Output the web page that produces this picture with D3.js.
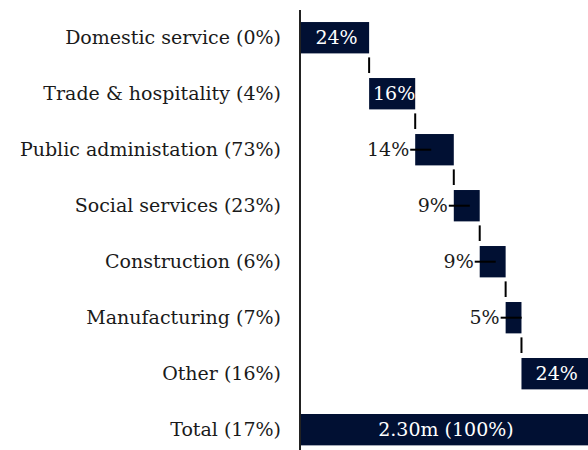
<!DOCTYPE html>
<html>
<meta charset="utf-8">
<style>
body { margin: 0; background: #fff; }
text { font-family: "DejaVu Serif", serif; }
</style>
<body>
<script src="https://d3js.org/d3.v7.min.js"></script>
<script>
// categories and shares (%)
var categories = ["Domestic service (0%)", "Trade & hospitality (4%)", "Public administation (73%)",
                  "Social services (23%)", "Construction (6%)", "Manufacturing (7%)", "Other (16%)"];
var shares = [24.0, 16.0, 13.4, 9.0, 9.0, 5.5, 23.1];
var shareLabels = ["24%", "16%", "14%", "9%", "9%", "5%", "24%"];
var totalName = "Total (17%)";
var totalLabel = "2.30m (100%)";
var insideLabel = [true, true, false, false, false, false, true];

var width = 588, height = 450, axisX = 300;

var svg = d3.select("body").append("svg")
    .attr("width", width)
    .attr("height", height);

// build waterfall rows
var rows = [], run = 0;
shares.forEach(function(v, i) {
  rows.push({name: categories[i], start: run, end: run + v, label: shareLabels[i], inside: insideLabel[i]});
  run += v;
});
var total = {name: totalName, start: 0, end: 100, label: totalLabel, inside: true};
var allRows = rows.concat([total]);

var x = d3.scaleLinear().domain([0, 100]).range([axisX, axisX + 288]);
var y = d3.scaleBand()
    .domain(allRows.map(function(d) { return d.name; }))
    .range([-2.6, 470])
    .padding(0.44);

var navy = "#011033";

// category labels
svg.selectAll(".cat")
    .data(allRows)
  .enter().append("text")
    .attr("class", "cat")
    .attr("x", axisX - 19)
    .attr("y", function(d) { return y(d.name) + y.bandwidth() / 2; })
    .attr("dy", ".35em")
    .style("text-anchor", "end")
    .style("font-size", "19px")
    .style("fill", "#1a1a1a")
    .text(function(d) { return d.name; });

// bars
svg.selectAll(".bar")
    .data(allRows)
  .enter().append("rect")
    .attr("class", "bar")
    .attr("x", function(d) { return x(d.start); })
    .attr("y", function(d) { return y(d.name); })
    .attr("width", function(d) { return x(d.end) - x(d.start); })
    .attr("height", y.bandwidth())
    .style("fill", navy);

// connectors between steps (none after the last step)
svg.selectAll(".conn")
    .data(rows.slice(0, rows.length - 1))
  .enter().append("line")
    .attr("class", "conn")
    .attr("x1", function(d) { return x(d.end); })
    .attr("x2", function(d) { return x(d.end); })
    .attr("y1", function(d) { return y(d.name) + y.bandwidth() + 4; })
    .attr("y2", function(d) { return y(d.name) + y.step() - 5; })
    .style("stroke", "#000")
    .style("stroke-width", 2);

// leader ticks for labels outside
var outside = rows.filter(function(d) { return !d.inside; });
svg.selectAll(".lead")
    .data(outside)
  .enter().append("line")
    .attr("class", "lead")
    .attr("x1", function(d) { return x(d.start) - 5; })
    .attr("x2", function(d) { return x(d.start) + 16; })
    .attr("y1", function(d) { return y(d.name) + y.bandwidth() / 2; })
    .attr("y2", function(d) { return y(d.name) + y.bandwidth() / 2; })
    .style("stroke", "#000")
    .style("stroke-width", 2);

// value labels
svg.selectAll(".val")
    .data(allRows)
  .enter().append("text")
    .attr("class", "val")
    .attr("x", function(d) { return d.inside ? (x(d.start) + x(d.end)) / 2 + 2 : x(d.start) - 6; })
    .attr("y", function(d) { return y(d.name) + y.bandwidth() / 2; })
    .attr("dy", ".35em")
    .style("text-anchor", function(d) { return d.inside ? "middle" : "end"; })
    .style("font-size", "19px")
    .style("fill", function(d) { return d.inside ? "#fff" : "#1a1a1a"; })
    .text(function(d) { return d.label; });

// axis line
svg.append("line")
    .attr("x1", axisX).attr("x2", axisX)
    .attr("y1", 10).attr("y2", height)
    .style("stroke", "#222")
    .style("stroke-width", 2);
</script>
</body>
</html>
